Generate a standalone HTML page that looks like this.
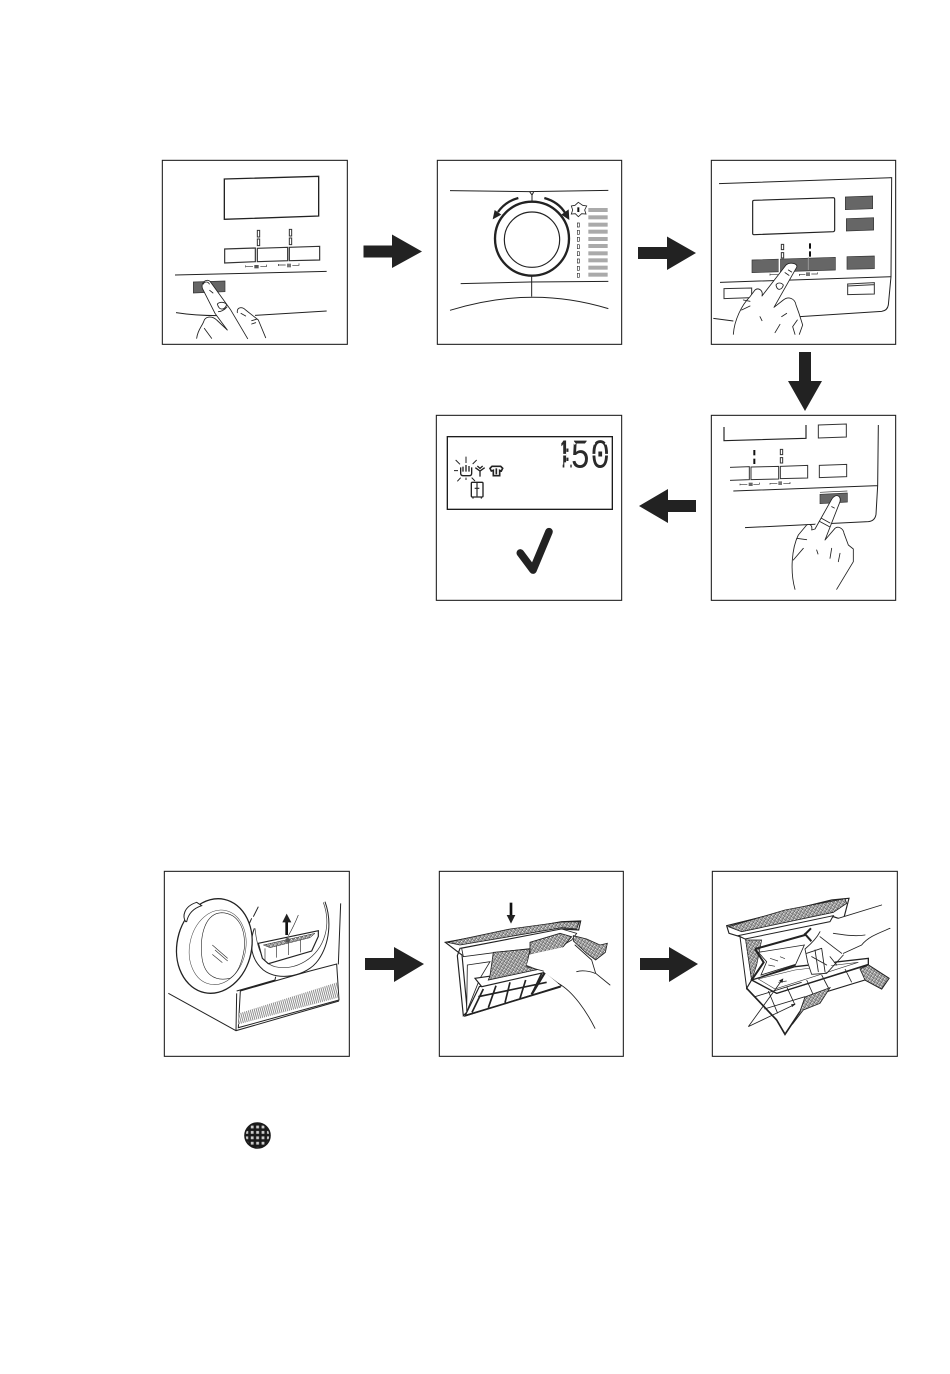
<!DOCTYPE html>
<html><head><meta charset="utf-8"><style>
html,body{margin:0;padding:0;background:#fff}
svg{display:block}
.b{fill:none;stroke:#1c1c1c;stroke-width:3.2}
.l{fill:none;stroke:#222;stroke-width:3}
.t{fill:none;stroke:#333;stroke-width:2}
.w{fill:#fff;stroke:#222;stroke-width:3}
.d{fill:#666;stroke:#333;stroke-width:2}
.h{fill:#fff;stroke:#222;stroke-width:2.6;stroke-linejoin:round;stroke-linecap:round}
.m{fill:url(#mesh);stroke:#222;stroke-width:2.5}
.a{fill:#222}
</style></head><body>
<svg xmlns="http://www.w3.org/2000/svg" width="950" height="1374" viewBox="0 0 950 1374">
<defs>
<pattern id="mesh" width="9" height="9" patternUnits="userSpaceOnUse" patternTransform="rotate(30)"><rect width="9" height="9" fill="#fff"/><path d="M0 0H9M0 4.5H9M0 0V9M4.5 0V9" stroke="#333" stroke-width="1.8"/></pattern>
<pattern id="hat" width="6" height="20" patternUnits="userSpaceOnUse" patternTransform="rotate(-15)"><rect width="6" height="20" fill="#fff"/><path d="M1.5 0V20" stroke="#555" stroke-width="2"/></pattern>
<pattern id="grid" width="5.4" height="5.4" patternUnits="userSpaceOnUse" x="1" y="1"><rect width="5.4" height="5.4" fill="#1a1a1a"/><rect x="1.4" y="1.4" width="2.8" height="2.8" fill="#ccc"/></pattern>
</defs>

<!-- connector arrows -->
<polygon class="a" points="363.5,245.5 392,245.5 392,234.5 422,251.5 392,268 392,257.5 363.5,257.5"/>
<polygon class="a" points="638,247 667,247 667,236.5 696,253 667,270 667,259 638,259"/>
<polygon class="a" points="799,352 811,352 811,381 822,381 805,411 788,381 799,381"/>
<polygon class="a" points="696,500 668,500 668,489 639,506 668,523 668,512 696,512"/>
<polygon class="a" points="365,958 394,958 394,947 424,964 394,982 394,970 365,970"/>
<polygon class="a" points="640,958 669,958 669,947 698,964 669,982 669,970 640,970"/>

<!-- Panel 1 -->
<g transform="translate(155,150) scale(.33333)">
<rect class="b" x="22" y="31" width="555" height="552"/>
<path class="l" style="stroke-width:4" d="M208,87 L491,79 L491,198 L208,208 Z"/>
<path class="t" style="stroke-width:3.5" d="M209,297 L301,294 V335 L209,339 Z M307,295 L398,292 V332 L307,335 Z M403,292 L494,289 V330 L403,332 Z"/>
<path class="t" style="stroke-width:3" d="M307,241h7v20h-7z M307,267h7v20h-7z M403,238h7v20h-7z M403,264h7v20h-7z"/>
<path class="t" d="M272,346v6M272,349h22M316,350h18v-6M370,342v6M370,345h22M412,346h20v-6"/>
<rect x="298" y="345" width="13" height="10" fill="#555"/><rect x="396" y="341" width="12" height="11" fill="#777"/>
<path class="l" d="M60,375 L515,364"/>
<path class="l" d="M63,488 Q120,497 190,497 M300,496 L515,483"/>
<polygon class="d" points="115,396 210,393 210,425 115,429"/>
<path class="h" d="M125,565 C128,540 140,530 146,515 C150,498 172,497 185,510 L217,540 L195,565 Z" style="stroke:none"/>
<path class="h" fill="none" d="M125,565 C128,540 140,530 146,515 C150,498 172,497 185,510 L217,540"/>
<path class="h" d="M170,565 L148,535"/>
<path class="h" d="M217,540 L180,490 L142,415 C136,395 160,382 168,398 L226,478 L275,565 L200,565 Z" style="stroke:none"/>
<path class="h" d="M217,540 L180,490 L142,415 C136,395 160,382 168,398 L226,478 L278,566" style="fill:none"/>
<path class="h" style="fill:none" d="M164,421l10,8M187,462c8-8 22-6 28,2c-6,16-22,20-28,-2M190,485c6,0 18-4 26-14M145,402c4,-8 14,-8 18,0"/>
<path class="h" d="M248,485 C245,470 262,470 272,480 L310,510 L330,563 L282,563 Z" style="stroke:none"/>
<path class="h" style="fill:none" d="M247,488 C245,470 262,470 272,480 L310,510 L332,563M258,490l14,8M290,512l14-4M290,522l12-4"/>
</g>

<!-- Panel 2 -->
<g transform="translate(430,150) scale(.33333)">
<rect class="b" x="22" y="31" width="553" height="552"/>
<path class="l" d="M60,122 L295,125 L535,121 M298,124 L306,135 V155 M312,124 L306,135"/>
<circle cx="306" cy="266" r="111" fill="none" stroke="#222" stroke-width="7"/>
<circle cx="306" cy="269" r="83" fill="none" stroke="#222" stroke-width="3.5"/>
<path d="M265,144 C238,151 218,166 204,186" fill="none" stroke="#222" stroke-width="7"/>
<polygon class="a" points="188,208 194,180 214,194"/>
<path d="M343,144 C372,152 392,166 406,190" fill="none" stroke="#222" stroke-width="7"/>
<polygon class="a" points="418,210 394,194 416,178"/>
<path class="l" d="M92,401 L300,396 L535,394 M305,378 V440"/>
<path class="l" d="M60,481 Q305,405 535,476"/>
<g fill="#aaa">
<rect x="475" y="174" width="58" height="12"/><rect x="475" y="196" width="58" height="12"/><rect x="475" y="218" width="58" height="12"/><rect x="475" y="239" width="58" height="12"/><rect x="475" y="261" width="58" height="12"/><rect x="475" y="282" width="58" height="12"/><rect x="475" y="304" width="58" height="12"/><rect x="475" y="325" width="58" height="12"/><rect x="475" y="347" width="58" height="12"/><rect x="475" y="368" width="58" height="12"/>
</g>
<path class="t" d="M442,219h6v12h-6z M442,241h6v12h-6z M442,262h6v12h-6z M442,284h6v12h-6z M442,305h6v12h-6z M442,327h6v12h-6z M442,349h6v12h-6z M442,370h6v12h-6z"/>
<path class="l" d="M445,157 L458,166 L470,168 L464,180 L468,192 L455,191 L445,200 L436,191 L424,192 L428,180 L424,168 L435,166 Z" style="stroke-width:2.5"/>
<rect x="442" y="172" width="6" height="14" fill="#111"/>
</g>

<!-- Panel 3 -->
<g transform="translate(700,150) scale(.33333)">
<rect class="b" x="34" y="31" width="553" height="552"/>
<path class="l" d="M57,101 L575,83 L573,380 L565,465 Q562,482 545,484 L300,500 M60,397 L573,380 M40,505 L100,513"/>
<path class="l" style="stroke-width:3.5" d="M162,151 L400,143 Q404,143 404,148 V240 Q404,244 400,245 L162,254 Q158,254 158,250 V155 Q158,151 162,151 Z"/>
<polygon class="d" points="436,141 518,138 518,176 436,179"/>
<polygon class="d" points="439,206 521,203 521,240 439,243"/>
<polygon class="d" points="441,320 523,318 523,356 441,358"/>
<polygon class="d" points="156,330 406,322 406,360 156,368"/>
<path d="M238,325V368" stroke="#fff" stroke-width="4"/><path d="M325,322V360" stroke="#999" stroke-width="3"/>
<path class="t" style="stroke-width:3" d="M244,283h7v16h-7z M244,308h7v16h-7z"/>
<rect x="327" y="280" width="6" height="16" fill="#111"/><rect x="327" y="304" width="6" height="16" fill="#111"/>
<path class="t" d="M210,371v6M210,374h24M298,372v6M298,373h18M334,372h18v-5"/><rect x="318" y="367" width="12" height="11" fill="#777"/>
<path class="t" style="stroke-width:3" d="M72,416 L155,414 V443 L72,446 Z M443,402 L523,398 V432 L443,434 Z M443,408 L523,404"/>
<path class="h" style="stroke:none" d="M100,553 C103,510 125,465 150,440 L165,420 C175,412 190,420 186,438 L258,345 C270,335 295,340 290,352 L222,470 L250,450 C265,438 285,445 288,465 L297,490 L308,525 L298,553 Z"/>
<path class="h" style="fill:none" d="M100,553 C103,510 125,465 150,440 L165,420 C175,412 190,420 186,438 M186,438 L258,345 C270,335 295,340 290,352 L222,472 M222,472 L250,450 C265,438 285,445 288,465 L297,490 L308,525 L298,553 M292,510 L278,530 L285,553 M228,405 c4,-8 16,-8 22,0 c-2,12 -18,22 -22,0 M255,368 l12,8 M265,360 l10,6 M130,450 l20,4 M125,480 l25,-12 M180,500 l6,12 M245,500 l15,-10 M225,548 l15,-25"/>
</g>

<!-- Panel 4 -->
<g transform="translate(700,405) scale(.33333)">
<rect class="b" x="34" y="31" width="553" height="555"/>
<path class="l" style="stroke-width:3.5" d="M72,66 V107 L318,100 V60"/>
<path class="t" style="stroke-width:3" d="M355,60 L439,57 V96 L355,99 Z M358,181 L440,178 V215 L358,218 Z M90,187 L148,185 V224 L90,226 M153,186 L236,184 V222 L153,224 Z M241,184 L323,181 V219 L241,221 Z"/>
<rect x="160" y="135" width="6" height="16" fill="#111"/><rect x="160" y="161" width="6" height="16" fill="#111"/>
<path class="t" style="stroke-width:3" d="M241,133h7v16h-7z M241,158h7v16h-7z"/>
<path class="t" d="M120,236v5M120,238h22M160,238h18v-5M210,234v5M210,235h22M250,236h20v-5"/><rect x="146" y="233" width="12" height="10" fill="#666"/><rect x="235" y="229" width="11" height="11" fill="#777"/>
<path class="l" d="M100,258 L533,242 M535,60 L533,242 L528,328 Q525,348 505,350 L135,368"/>
<path class="t" d="M360,262 L442,258"/>
<polygon class="d" points="360,268 442,264 442,291 360,296"/>
<path class="h" style="stroke:none" d="M285,553 C270,500 275,430 295,390 L320,360 C330,355 338,362 335,375 L395,283 C405,265 425,270 420,290 L375,405 L405,370 C415,362 430,370 432,385 L445,420 L460,432 L460,470 L410,553 Z"/>
<path class="h" style="fill:none" d="M285,553 C270,500 275,430 295,390 L320,360 C330,355 338,362 335,375 L345,372 L395,283 C405,265 425,270 420,290 L375,405 M375,405 L405,370 C415,362 430,370 432,385 L445,420 L460,432 L460,470 L410,553 M360,350 l30,16 M365,340 l25,14 M395,305 l8,4 M290,400 l30,4 M280,465 l30,-35 M350,435 l4,12 M395,430 l-5,30 M420,445 l-5,25"/>
</g>

<!-- Panel 5 -->
<g transform="translate(430,405) scale(.33333)">
<rect class="b" x="19" y="31" width="556" height="555"/>
<rect x="52" y="95" width="495" height="218" fill="none" stroke="#1c1c1c" stroke-width="4"/>
<text transform="translate(0,188) scale(.8,1)" font-family="'Liberation Mono',monospace" font-size="122" fill="#2a2a2a"><tspan x="464">1</tspan><tspan x="495" dy="-20" font-size="68">:</tspan><tspan x="527 602" dy="20">50</tspan></text>
<rect x="374" y="100" width="20" height="95" fill="#fff"/>
<rect x="403" y="172" width="18" height="24" fill="#fff"/>
<rect x="374" y="172" width="24" height="24" fill="#fff"/>
<path stroke="#fff" stroke-width="5" d="M396,149 H408 M484,149 H498 M524,149 H540 M428,108 l8,10 M474,108 l-8,10 M486,108 l8,10 M534,108 l-8,10 M486,192 l8,-10 M534,192 l-8,-10"/>
<path class="l" d="M92,187 V205 Q92,212 100,212 H118 Q125,212 125,205 V187 M99,185 V200 M108,180 V200 M117,183 V200" style="stroke-width:4"/>
<path class="l" style="stroke-width:3" d="M108,155 V174 M77,165 L90,178 M140,165 L128,177 M72,197 H84 M82,229 L92,218 M135,228 L125,218 M108,218 V225"/>
<path class="l" style="stroke-width:4" d="M136,188 L150,198 L164,188 M150,198 V215 M142,183 L150,190 L158,183"/>
<path class="l" style="stroke-width:5" d="M180,190 L186,184 H212 L218,190 L214,198 L209,196 V212 H190 V196 L184,198 Z M199,190 V208"/>
<rect x="124" y="232" width="35" height="44" rx="3" fill="none" stroke="#222" stroke-width="4"/>
<path class="l" style="stroke-width:3.5" d="M141,234 V274 M134,250 H148 M129,276 V281 M154,276 V281"/>
<path d="M271,444 L309,495 L357,380" fill="none" stroke="#222" stroke-width="23" stroke-linecap="round" stroke-linejoin="round"/>
</g>

<!-- Panel 6 -->
<g transform="translate(155,865) scale(.33333)">
<rect class="b" x="28" y="19" width="555" height="555"/>
<path class="l" d="M40,385 L243,497 L552,408 M243,497 L245,385 M557,115 L550,298 M510,110 C530,165 525,235 490,285 C455,335 370,350 325,315 C290,285 280,240 298,190 M310,125 L295,155 M290,160 L282,178"/>
<path class="t" d="M300,190 C305,240 320,295 360,305 C420,320 490,280 510,210 C520,175 515,140 505,112 M430,150 C420,175 410,195 400,212"/>
<path class="l" d="M245,378 L360,345 L362,335 M450,322 L465,318 L545,297 L552,405 L250,488 L256,378 Z"/>
<polygon points="250,478 550,398 546,352 252,445" fill="url(#hat)"/>
<ellipse cx="178" cy="243" rx="112" ry="143" transform="rotate(12 178 243)" fill="#fff" stroke="#222" stroke-width="4"/>
<ellipse cx="188" cy="247" rx="84" ry="113" transform="rotate(12 188 247)" fill="none" stroke="#444" stroke-width="1.6"/>
<path class="l" d="M200,143 C150,145 135,210 140,270 C145,330 180,350 225,340 C250,325 262,290 268,250 C272,190 250,145 200,143 Z" style="stroke-width:1.8"/>
<path class="w" d="M92,170 C82,155 85,125 125,112 L140,122 C115,130 100,145 95,170 Z" style="stroke-width:3"/>
<path class="t" d="M172,240 l46,40 M180,255 l38,33 M172,268 l30,25"/>
<path class="w" style="stroke-width:3.5" d="M310,235 L490,197 L490,214 L470,258 L340,296 L322,280 Z"/>
<path class="m" style="stroke-width:1.5" d="M325,240 L480,205 L465,218 L345,248 Z"/>
<path class="t" d="M330,250 V285 M365,243 V278 M400,234 V270 M437,224 V262"/>
<circle cx="398" cy="226" r="7" fill="#555"/>
<path d="M395,210 V168" stroke="#111" stroke-width="8"/>
<polygon class="a" points="382,172 395,146 409,172"/>
</g>

<!-- Panel 7 -->
<g transform="translate(430,865) scale(.33333)">
<rect class="b" x="28" y="19" width="552" height="555"/>
<path class="w" style="stroke-width:3.5" d="M46,232 L395,170 L452,168 L446,195 L396,192 L90,250 L82,272 L100,452 L112,440 L96,270 Z"/>
<path class="m" d="M52,232 L240,192 L395,171 L448,170 L440,192 L396,188 L90,240 Z"/>
<path class="w" d="M95,250 L395,192 L440,205 L425,225 L400,240 L200,262 L100,275 Z" style="stroke-width:2.5"/>
<path class="m" d="M300,232 L390,205 L425,215 L385,262 L300,268 Z"/>
<path class="w" style="stroke-width:2.5" d="M112,300 L180,290 L150,340 L110,440 Z"/>
<path class="w" style="stroke-width:3.5" d="M105,453 L148,365 L345,320 L395,362 Z"/>
<path class="l" style="stroke-width:5" d="M105,452 L392,365 M126,442 L160,372 M175,428 L198,362 M225,413 L240,352 M270,400 L287,345 M305,388 L335,325 M145,395 L350,352"/>
<path class="w" style="stroke-width:3.5" d="M135,340 L330,312 L345,322 L155,365 Z"/>
<path d="M345,322 L305,388" stroke="#222" stroke-width="7"/>
<path class="m" d="M180,332 L190,262 L300,252 L290,302 L330,312 L175,345 Z"/>
<path class="m" d="M430,212 L470,222 L510,240 L532,235 L526,262 L497,285 L470,265 L430,228 Z"/>
<path class="h" style="stroke:none" d="M290,300 L300,268 L430,240 L485,285 L500,325 L540,360 L495,490 L400,365 L340,320 Z"/>
<path class="h" style="fill:none" d="M435,240 L485,285 L497,325 L540,360 M340,318 L290,305 M385,355 C430,380 470,440 495,490 M440,320 C455,315 480,318 495,325"/>
<path d="M243,113 V152" stroke="#111" stroke-width="8"/>
<polygon class="a" points="230,150 256,150 243,176"/>
</g>

<!-- Panel 8 -->
<g transform="translate(705,865) scale(.33333)">
<rect class="b" x="22" y="19" width="555" height="555"/>
<path class="w" style="stroke-width:3.5" d="M65,182 L380,105 L432,100 L415,165 L385,155 L105,215 L72,205 Z"/>
<path class="m" d="M70,185 L240,135 L420,101 L425,115 L385,142 L110,200 Z"/>
<path class="w" style="stroke-width:3" d="M105,215 L125,370 L140,345 L122,222 Z"/>
<path class="m" style="stroke-width:2" d="M122,225 L170,225 L155,300 L140,345 Z"/>
<path class="w" style="stroke-width:3" d="M100,212 L385,152 L375,170 L120,222 Z"/>
<path class="l" style="stroke-width:6" d="M150,252 L300,210 M150,252 L176,292 L140,345 M298,205 L322,232 M318,190 L298,210"/>
<path class="w" style="stroke-width:2.5" d="M160,262 L298,240 L272,298 L168,330 L185,290 Z"/>
<path class="l" style="stroke-width:4" d="M170,335 L272,300"/>
<path class="w" style="stroke-width:3.5" d="M125,370 L215,465 L240,508 L285,440 L300,400 L480,345 L530,372 L552,340 L490,300 L215,385 L140,345 Z"/>
<path class="w" style="stroke-width:4" d="M140,345 L270,305 L490,280 L490,298 L215,385 Z"/>
<path class="t" style="stroke-width:1.8" d="M160,342 L270,315 L460,292 L210,372 Z"/>
<path class="l" style="stroke-width:2.5" d="M150,395 L290,352 M178,432 L300,395 M190,378 L218,445 M245,365 L270,420 M305,345 L325,390 M350,330 L372,372 M420,312 L440,352"/>
<path class="l" style="stroke-width:5" d="M125,370 L215,465 M215,465 L240,508 L285,440"/>
<path class="m" d="M285,440 L300,396 L375,368 L345,415 L295,435 L262,478 Z"/>
<path class="m" d="M465,312 L490,300 L552,340 L530,372 L480,345 Z"/>
<path class="h" style="stroke:none" d="M300,250 L345,200 L400,160 L530,120 L555,190 L480,245 L415,265 L360,320 L320,330 L305,290 Z"/>
<path class="h" style="fill:none" d="M400,160 L530,120 M555,190 C520,205 490,215 470,240 L415,265 M345,200 C335,220 320,235 300,252 L308,292 L320,328 L365,325 L415,270 M345,215 L390,250 L410,265 M385,205 C420,210 450,215 480,210 M320,275 L365,300 M305,265 L350,250 L360,320 M330,255 L340,320 M375,275 L395,300"/>
<path class="t" d="M195,280 l24,8 M225,275 l15,6 M220,352 l25,-4 M190,300 l20,4"/>
<path class="l" style="stroke-width:2.5" d="M130,485 L232,344 M130,485 L270,418"/>
<polygon class="a" points="235,340 232,354 222,347"/>
<polygon class="a" points="272,416 262,426 258,418"/>
</g>

<!-- filter symbol -->
<circle cx="257.5" cy="1135.5" r="12.5" fill="url(#grid)" stroke="#1a1a1a" stroke-width="1.6"/>
</svg>
</body></html>
